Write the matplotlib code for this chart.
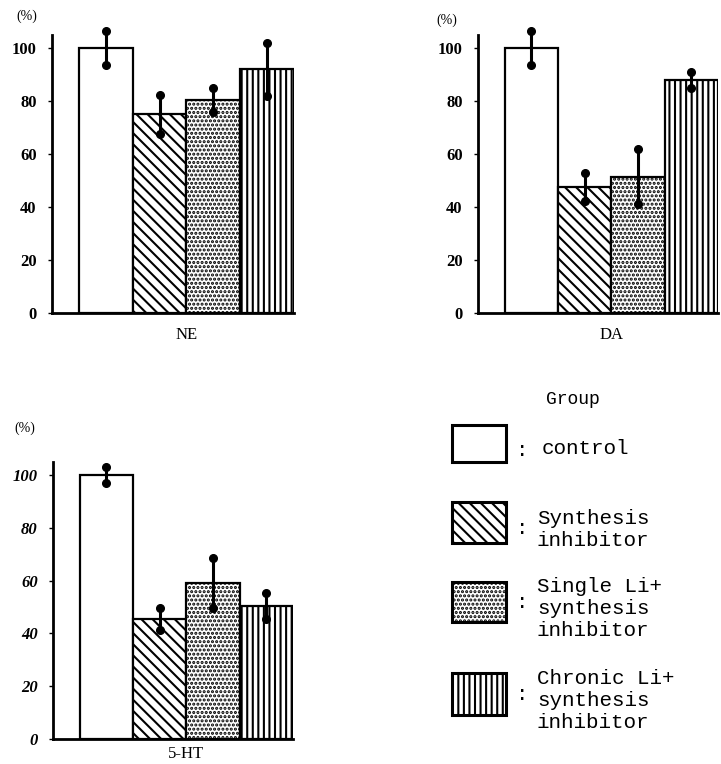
import matplotlib
matplotlib.use('Agg')
import matplotlib.pyplot as plt
from matplotlib.patches import Rectangle

plt.rcParams['hatch.linewidth'] = 1.5
plt.rcParams['hatch.color'] = 'black'

groups = ['control', 'Synthesis inhibitor', 'Single Li+ synthesis inhibitor',
          'Chronic Li+ synthesis inhibitor']
hatches = ['', '\\\\\\', '....', '|||']

ne_mean = [100, 75, 80.5, 92]
ne_err = [6.5, 7.5, 4.5, 10]
da_mean = [100, 47.5, 51.5, 88]
da_err = [6.5, 5.2, 10.5, 3]
ht_mean = [100, 45.5, 59, 50.5]
ht_err = [3, 4.3, 9.5, 5]

yticks = [0, 20, 40, 60, 80, 100]

W, H = 721, 764
fig = plt.figure(figsize=(W / 100, H / 100), dpi=100)


def px_axes(left, top, right, bottom):
    return fig.add_axes([left / W, 1 - bottom / H, (right - left) / W, (bottom - top) / H])


def panel(ax, means, errs, label, tick_style, label_pad, pct_off):
    xs = [1, 2, 3, 4]
    ax.bar(xs, means, width=1.0, color='white', edgecolor='black',
           linewidth=1.6, hatch=hatches, zorder=2)
    lo = [m - e for m, e in zip(means, errs)]
    hi = [m + e for m, e in zip(means, errs)]
    ax.vlines(xs, lo, hi, color='black', linewidth=2.2, zorder=3, clip_on=False)
    ax.plot(xs, lo, 'o', color='black', markersize=5.5, zorder=4, clip_on=False)
    ax.plot(xs, hi, 'o', color='black', markersize=5.5, zorder=4, clip_on=False)
    ax.set_xlim(0, 4.5)
    ax.set_ylim(0, 105)
    for s in ['top', 'right']:
        ax.spines[s].set_visible(False)
    for s in ['left', 'bottom']:
        ax.spines[s].set_linewidth(2.0)
    ax.set_yticks(yticks)
    ax.set_yticklabels([str(v) for v in yticks], family='Liberation Serif',
                       fontsize=12, style=tick_style, fontweight='bold')
    ax.tick_params(axis='y', length=3, width=1, pad=8)
    ax.set_xticks([2.5])
    ax.set_xticklabels([label], family='Liberation Serif', fontsize=12)
    ax.tick_params(axis='x', length=0, pad=label_pad)
    ax.annotate('(%)', xy=(0, 1), xycoords='axes fraction', xytext=pct_off,
                textcoords='offset pixels', ha='center', va='center',
                family='Liberation Serif', fontsize=10)


ax1 = px_axes(52, 35, 294, 313)
panel(ax1, ne_mean, ne_err, 'NE', 'normal', 10, (-25, 19))
ax2 = px_axes(478, 35, 718, 313)
panel(ax2, da_mean, da_err, 'DA', 'normal', 10, (-31, 15))
ax3 = px_axes(53, 462, 293, 739)
panel(ax3, ht_mean, ht_err, '5-HT', 'italic', 5, (-28, 34))

# legend block
lg = px_axes(400, 380, 721, 764)
lg.set_xlim(0, 321)
lg.set_ylim(384, 0)
lg.axis('off')
mono = 'Liberation Mono'
lg.text(173, 20, 'Group', ha='center', va='center', family=mono, fontsize=13)

box_tops = [45, 122, 202, 293]
box_h = [37, 41, 40, 42]
label_lines = [['control'], ['Synthesis', 'inhibitor'],
               ['Single Li+', 'synthesis', 'inhibitor'],
               ['Chronic Li+', 'synthesis', 'inhibitor']]
text_tops = [68, 138, 207, 298]
for i in range(4):
    r = Rectangle((52, box_tops[i]), 54, box_h[i], facecolor='white',
                  edgecolor='black', linewidth=2.2, hatch=hatches[i])
    lg.add_patch(r)
    lines = label_lines[i]
    tx = 142 if i == 0 else 137
    for j, line in enumerate(lines):
        lg.text(tx, text_tops[i] + 22 * j, line, ha='left', va='center',
                family=mono, fontsize=15)
    cy = text_tops[i] + 11 * (len(lines) - 1) + (2 if i == 0 else 0)
    if len(lines) == 3:
        cy = text_tops[i] + 16
    lg.text(122, cy, ':', ha='center', va='center', family=mono, fontsize=15)

fig.savefig('out.png', dpi=100)
